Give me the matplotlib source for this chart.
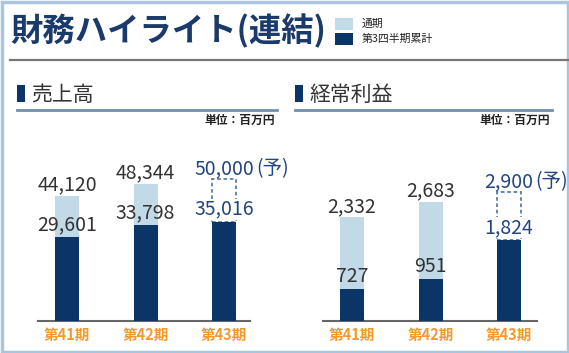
import matplotlib
matplotlib.use("Agg")
import matplotlib.pyplot as plt
from matplotlib.patches import Rectangle
from matplotlib.lines import Line2D

plt.rcParams['font.family'] = ['Noto Sans CJK JP', 'DejaVu Sans']

# ---- data ----
categories = ['第41期', '第42期', '第43期']
sales_full = [44120, 48344, 50000]
sales_q3 = [29601, 33798, 35016]
profit_full = [2332, 2683, 2900]
profit_q3 = [727, 951, 1824]
is_forecast = [False, False, True]

title = '財務ハイライト(連結)'
legend_labels = ['通期', '第3四半期累計']
panel_titles = ['売上高', '経常利益']
unit_label = '単位：百万円'

DARK = '#0b3566'
LIGHT = '#c2d9e7'
NAVY_TXT = '#24467f'
ORANGE = '#f39a2f'
TXT = '#333333'

W, H = 569, 353
fig = plt.figure(figsize=(W / 100, H / 100), dpi=100)
fig.patch.set_facecolor('white')


def fx(x):
    return x / W


def fy(y):
    return 1 - y / H


# outer border
fig.add_artist(Rectangle((fx(1.5), fy(351.5)), fx(566), 1 - 3 / H, transform=fig.transFigure,
                         fill=False, edgecolor='#a9c5e0', lw=2.5))

# title
fig.text(fx(10), fy(31), title, fontsize=23.3, fontweight='bold', color='#1a3a6b',
         ha='left', va='center')

# legend
fig.add_artist(Rectangle((fx(335), fy(30)), fx(18), 12 / H, transform=fig.transFigure,
                         facecolor=LIGHT, edgecolor='none'))
fig.add_artist(Rectangle((fx(335), fy(45)), fx(18), 12 / H, transform=fig.transFigure,
                         facecolor=DARK, edgecolor='none'))
fig.text(fx(362), fy(24), legend_labels[0], fontsize=7.8, color='#222222',
         ha='left', va='center')
fig.text(fx(362), fy(39), legend_labels[1], fontsize=7.8, color='#222222',
         ha='left', va='center')

# gray rule under title
fig.add_artist(Line2D([fx(10), fx(569)], [fy(60), fy(60)], transform=fig.transFigure,
                      color='#777777', lw=1.6))


def panel(x_marker, x_line_end, ax_left, ax_right, ymax, full, q3, name):
    # header
    fig.add_artist(Rectangle((fx(x_marker), fy(102)), fx(7.5), 17 / H, transform=fig.transFigure,
                             facecolor=DARK, edgecolor='none'))
    fig.text(fx(x_marker + 14), fy(95), name, fontsize=15, color=TXT, ha='left', va='center')
    fig.add_artist(Line2D([fx(x_marker), fx(x_line_end)], [fy(109.5), fy(109.5)],
                          transform=fig.transFigure, color='#6f8fb3', lw=2))
    fig.text(fx(x_line_end - 2), fy(120), unit_label, fontsize=8.5, fontweight='bold',
             color='#222222', ha='right', va='center')

    ax = fig.add_axes([fx(ax_left), fy(321), fx(ax_right - ax_left), (321 - 130) / H])
    spacing = 78.5
    left_px = 67 - 38 if ax_left < 300 else 352 - 323
    xl = -left_px / spacing
    xr = xl + (ax_right - ax_left) / spacing
    ax.set_xlim(xl, xr)
    ax.set_ylim(0, ymax)
    bw = 24 / spacing
    xs = list(range(len(categories)))
    for i in xs:
        if is_forecast[i]:
            ax.bar(i, full[i] - q3[i], bottom=q3[i], width=bw, fill=False,
                   edgecolor='#5b7fa6', lw=1.3, linestyle=(0, (2, 1.5)), zorder=2)
        else:
            ax.bar(i, full[i], width=bw, color=LIGHT, zorder=1)
        ax.bar(i, q3[i], width=bw, color=DARK, zorder=3)

        col = NAVY_TXT if is_forecast[i] else TXT
        t_full = ax.annotate(f'{full[i]:,}', xy=(i, full[i]), xytext=(0, 5),
                             textcoords='offset pixels', ha='center', va='baseline',
                             fontsize=14, color=col, zorder=5)
        kw = {}
        if is_forecast[i]:
            kw['bbox'] = dict(facecolor='white', edgecolor='none', pad=0)
        ax.annotate(f'{q3[i]:,}', xy=(i, q3[i]), xytext=(0, 7),
                    textcoords='offset pixels', ha='center', va='baseline',
                    fontsize=14, color=col, zorder=5, **kw)
        if is_forecast[i]:
            ax.annotate('(予)', xy=(1, 0), xycoords=t_full, xytext=(2, 0),
                        textcoords='offset pixels', ha='left', va='bottom',
                        fontsize=14, color=col, zorder=5)

    ax.set_xticks(xs)
    ax.set_xticklabels(categories, fontsize=10.5, fontweight='bold', color=ORANGE)
    ax.tick_params(axis='x', length=0, pad=4)
    ax.set_yticks([])
    for s in ['top', 'right', 'left']:
        ax.spines[s].set_visible(False)
    ax.spines['bottom'].set_color('#666666')
    ax.spines['bottom'].set_linewidth(1.5)
    ax.patch.set_alpha(0)
    return ax


panel(17, 277, 38, 250, 191 * 352, sales_full, sales_q3, panel_titles[0])
panel(295, 552, 323, 537, 191 * 22.5, profit_full, profit_q3, panel_titles[1])

fig.savefig('out.png', dpi=100)
